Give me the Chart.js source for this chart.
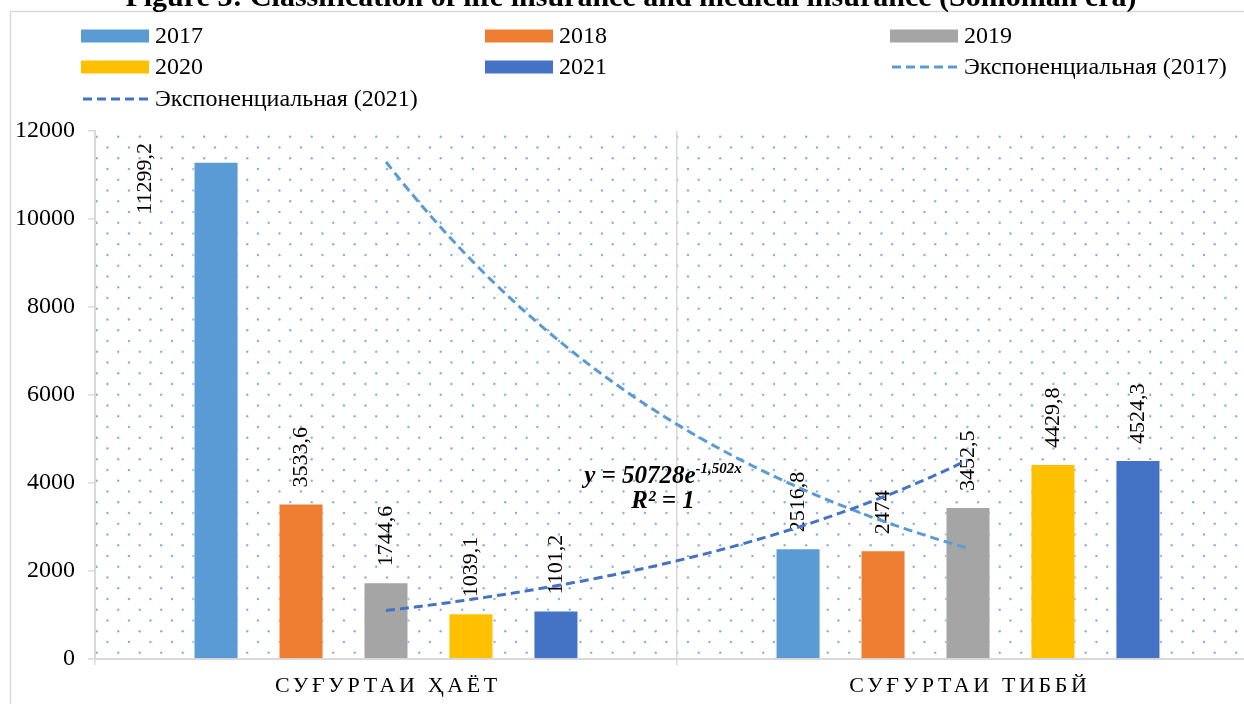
<!DOCTYPE html>
<html>
<head>
<meta charset="utf-8">
<script src="https://cdn.jsdelivr.net/npm/chart.js@4"></script>
<style>
  html, body { margin: 0; padding: 0; background: #fff; overflow: hidden; }
  #wrap { position: relative; width: 1264px; height: 704px; }
</style>
</head>
<body>
<div id="wrap"><canvas id="grafico"></canvas></div>
<script>
// dados do gráfico
const categorias = ["СУҒУРТАИ ҲАЁТ", "СУҒУРТАИ ТИББЙ"];
const anos = ["2017", "2018", "2019", "2020", "2021"];
const valores2017 = [11299.2, 2516.8];
const valores2018 = [3533.6, 2474];
const valores2019 = [1744.6, 3452.5];
const valores2020 = [1039.1, 4429.8];
const valores2021 = [1101.2, 4524.3];
const ticksY = [0, 2000, 4000, 6000, 8000, 10000, 12000];
const cores = ["#5B9BD5", "#ED7D31", "#A5A5A5", "#FFC000", "#4472C4"];
const titulo = "Figure 3: Classification of life insurance and medical insurance (Somonian era)";
// linhas de tendência (Excel): série de origem e nome
const tendencias = [
    { serie: 0, nome: "Экспоненциальная (2017)", cor: "#5B9BD5", equacao: true },
    { serie: 4, nome: "Экспоненциальная (2021)", cor: "#4472C4", equacao: false }
];

const FONTE = "'Liberation Serif', 'Times New Roman', serif";
const series = [valores2017, valores2018, valores2019, valores2020, valores2021];

// ajuste exponencial y = a*e^(b*x), x = 1..n (igual ao Excel)
function ajusteExp(dados) {
    const n = dados.length;
    let sx = 0, sy = 0, sxx = 0, sxy = 0;
    dados.forEach((v, i) => {
        const x = i + 1, ly = Math.log(v);
        sx += x; sy += ly; sxx += x * x; sxy += x * ly;
    });
    const b = (n * sxy - sx * sy) / (n * sxx - sx * sx);
    const a = Math.exp((sy - b * sx) / n);
    return { a, b };
}

function fmt(v) {
    return String(v).replace(".", ",");
}

// fundo pontilhado da área do gráfico
const fundoPontilhado = {
    id: "fundoPontilhado",
    beforeDraw(chart) {
        const { ctx, chartArea: ca } = chart;
        ctx.save();
        // moldura externa
        ctx.strokeStyle = "#d9d9d9";
        ctx.lineWidth = 1.5;
        ctx.strokeRect(10.5, 11.5, 3000, 3000);
        ctx.beginPath();
        ctx.rect(ca.left, ca.top, ca.right - ca.left, ca.bottom - ca.top);
        ctx.clip();
        ctx.fillStyle = "rgba(91,155,213,0.75)";
        const passo = 21.5;
        const ponto = (x, y) => {
            ctx.beginPath();
            ctx.arc(x, y, 1.2, 0, Math.PI * 2);
            ctx.fill();
        };
        for (let y = ca.top + 5.7; y < ca.bottom + passo; y += passo) {
            for (let x = ca.left + 1.7; x < ca.right + passo; x += passo) {
                ponto(x, y);
                ponto(x + passo / 2, y + passo / 2);
            }
        }
        ctx.restore();
    }
};

// rótulos, tendências, legenda, título e eixo X
const extras = {
    id: "extras",
    afterDatasetsDraw(chart) {
        const { ctx, chartArea: ca } = chart;
        const xs = chart.scales.x, ys = chart.scales.y;

        // rótulos de dados (vertical)
        ctx.save();
        ctx.font = "22px " + FONTE;
        ctx.fillStyle = "#000";
        chart.data.datasets.forEach((ds, di) => {
            chart.getDatasetMeta(di).data.forEach((bar, i) => {
                const txt = fmt(ds.data[i]);
                const w = ctx.measureText(txt).width;
                let x = bar.x, y = bar.y - 16;
                if (y - w < ca.top + 10) {
                    x = bar.x - 71;
                    y = ca.top + 12 + w;
                }
                ctx.save();
                ctx.translate(x, y);
                ctx.rotate(-Math.PI / 2);
                ctx.textAlign = "left";
                ctx.textBaseline = "middle";
                ctx.fillText(txt, 0, 0);
                ctx.restore();
            });
        });
        ctx.restore();

        // linhas de tendência exponenciais
        tendencias.forEach(t => {
            const dados = chart.data.datasets[t.serie].data;
            const { a, b } = ajusteExp(dados);
            ctx.save();
            ctx.beginPath();
            ctx.strokeStyle = t.cor;
            ctx.lineWidth = 3;
            ctx.setLineDash([9, 5]);
            for (let k = 0; k <= 100; k++) {
                const idx = (dados.length - 1) * k / 100;
                const px = xs.getPixelForValue(idx);
                const py = ys.getPixelForValue(a * Math.exp(b * (idx + 1)));
                if (k === 0) ctx.moveTo(px, py); else ctx.lineTo(px, py);
            }
            ctx.stroke();
            ctx.restore();

            if (t.equacao) {
                const cx = xs.getPixelForValue(0.5) - 14;
                const by = ys.getPixelForValue(4000);
                const principal = "y = " + Math.round(a) + "e";
                const expo = fmt(b.toFixed(3)) + "x";
                ctx.save();
                ctx.fillStyle = "#000";
                ctx.font = "italic bold 25px " + FONTE;
                const w1 = ctx.measureText(principal).width;
                ctx.font = "italic bold 15px " + FONTE;
                const w2 = ctx.measureText(expo).width;
                const x0 = cx - (w1 + w2) / 2;
                ctx.font = "italic bold 25px " + FONTE;
                ctx.textBaseline = "alphabetic";
                ctx.fillText(principal, x0, by);
                ctx.font = "italic bold 15px " + FONTE;
                ctx.fillText(expo, x0 + w1, by - 10);
                ctx.font = "italic bold 25px " + FONTE;
                ctx.textAlign = "center";
                ctx.fillText("R² = 1", cx, by + 25);
                ctx.restore();
            }
        });
    },
    afterDraw(chart) {
        const { ctx } = chart;
        const xs = chart.scales.x;
        ctx.save();

        // título (cortado no topo como no original)
        ctx.fillStyle = "#000";
        ctx.font = "bold 30px " + FONTE;
        ctx.textAlign = "center";
        ctx.textBaseline = "alphabetic";
        ctx.fillText(titulo, 631, 6);

        // rótulos do eixo X com espaçamento entre letras
        ctx.font = "22px " + FONTE;
        ctx.letterSpacing = "3.6px";
        categorias.forEach((c, i) => {
            ctx.fillText(c, xs.getPixelForValue(i) + 1.8, 692);
        });
        ctx.letterSpacing = "0px";

        // legenda em grade de 3 colunas
        const itens = chart.data.datasets.map(ds => ({ nome: ds.label, cor: ds.backgroundColor, linha: false }))
            .concat(tendencias.map(t => ({ nome: t.nome, cor: t.cor, linha: true })));
        const colunas = [81, 485, 890];
        const linhas = [36, 67, 99];
        ctx.font = "24px " + FONTE;
        ctx.textAlign = "left";
        ctx.textBaseline = "middle";
        itens.forEach((it, i) => {
            const x = colunas[i % 3], y = linhas[Math.floor(i / 3)];
            if (it.linha) {
                ctx.save();
                ctx.strokeStyle = it.cor;
                ctx.lineWidth = 3;
                ctx.setLineDash([9, 5]);
                ctx.beginPath();
                ctx.moveTo(x + 2, y);
                ctx.lineTo(x + 68, y);
                ctx.stroke();
                ctx.restore();
            } else {
                ctx.fillStyle = it.cor;
                ctx.fillRect(x, y - 6.5, 68, 13);
            }
            ctx.fillStyle = "#000";
            ctx.fillText(it.nome, x + 74, y + 1);
        });
        ctx.restore();
    }
};

new Chart(document.getElementById("grafico"), {
    type: "bar",
    data: {
        labels: categorias,
        datasets: anos.map((ano, i) => ({
            label: ano,
            data: series[i],
            backgroundColor: cores[i],
            borderColor: "#ffffff",
            borderWidth: 1,
            barPercentage: 0.53,
            categoryPercentage: 0.73
        }))
    },
    options: {
        responsive: true,
        maintainAspectRatio: false,
        animation: false,
        layout: { padding: { top: 131, left: 0, right: 5, bottom: 0 } },
        plugins: {
            legend: { display: false },
            title: { display: false },
            tooltip: { enabled: false }
        },
        scales: {
            x: {
                grid: { offset: true, color: "#d9d9d9", lineWidth: 1.5, tickLength: 6, drawOnChartArea: true },
                border: { color: "#d9d9d9", width: 2 },
                ticks: { display: false },
                afterFit(scale) { scale.height = 45; }
            },
            y: {
                min: ticksY[0],
                max: ticksY[ticksY.length - 1],
                afterBuildTicks(scale) { scale.ticks = ticksY.map(v => ({ value: v })); },
                grid: { drawOnChartArea: false, color: "#d9d9d9", lineWidth: 1.5, tickLength: 7 },
                border: { color: "#d9d9d9", width: 2 },
                ticks: {
                    font: { family: FONTE, size: 24 },
                    color: "#000",
                    padding: 13,
                    callback: v => String(v)
                },
                afterFit(scale) { scale.width = 95; }
            }
        }
    },
    plugins: [fundoPontilhado, extras]
});
</script>
</body>
</html>
